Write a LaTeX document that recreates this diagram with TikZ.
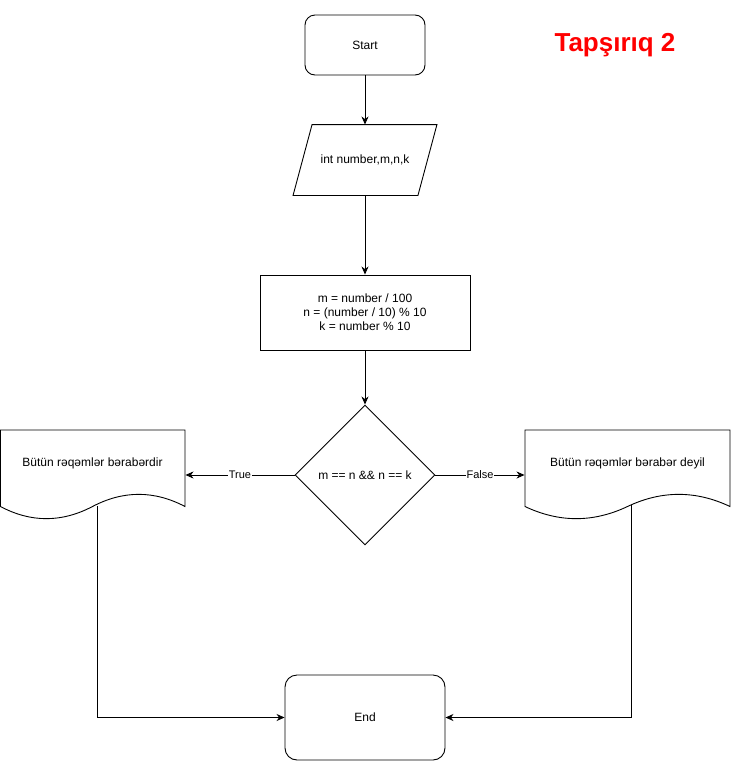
\documentclass[tikz,border=0pt]{standalone}
\usepackage{fontspec}
\setmainfont{Liberation Sans}
\usepackage{tikz}
\usetikzlibrary{calc, arrows.meta, positioning, shapes.geometric}

\begin{document}
\begin{tikzpicture}[
    x=1pt, y=-1pt,
    font=\fontsize{12}{14}\selectfont,
    line width=0.9pt,
    term node/.style={rectangle, rounded corners=10pt, draw, align=center},
    io node/.style={rectangle, minimum width=124pt, minimum height=70pt, inner sep=0pt},
    proc node/.style={rectangle, draw, align=center, minimum width=210pt, minimum height=75pt},
    cond node/.style={diamond, draw, minimum width=140pt, minimum height=140pt, inner sep=0pt},
    doc node/.style={rectangle, minimum height=90pt, inner sep=0pt},
    arrow/.style={-{Stealth[length=8pt, width=7pt, inset=2.5pt]}},
    label node/.style={font=\fontsize{11}{13}\selectfont, fill=white, inner sep=1pt}
]
\useasboundingbox (0,0) rectangle (731,761);

% Main Nodes
\node[term node, minimum width=120pt, minimum height=60pt] (start) at (365,45) {Start};
\node[io node] (input) at (365,160) {int number,m,n,k};
\node[proc node] (calc) at (365,312.5) {m = number / 100\\n = (number / 10) \% 10\\k = number \% 10};
\node[cond node] (cond) at (365,475) {m == n \&\& n == k};
\node[doc node, minimum width=185pt] (yes) at (92.5,475) {};
\node[doc node, minimum width=205pt] (no) at (627.5,475) {};
\node[term node, rounded corners=12pt, minimum width=160pt, minimum height=85pt] (end) at (365,717.5) {End};

% Title
\node[text=red, font=\bfseries\fontsize{26}{30}\selectfont] (title) at (615,45) {Tapşırıq 2};

% Input outline
\draw ($(input.south west)+(-9.5,0)$) -- ($(input.north west)+(9.5,0)$)
  -- ($(input.north east)+(9.5,0)$) -- ($(input.south east)+(-9.5,0)$) -- cycle;

% Document outlines
\draw (0.5,430) -- (185,430) -- (185,506.5)
  .. controls (154.2,490.3) and (123.3,490.3) .. (92.5,506.5)
  .. controls (61.7,522.7) and (30.8,522.7) .. (0.5,506.5) -- cycle;
\draw (525,430) -- (730,430) -- (730,506.5)
  .. controls (695.8,490.3) and (661.7,490.3) .. (627.5,506.5)
  .. controls (593.3,522.7) and (559.2,522.7) .. (525,506.5) -- cycle;
\node at (yes.center) [yshift=12pt] (yestext) {Bütün rəqəmlər bərabərdir};
\node at (no.center) [yshift=12pt] (notext) {Bütün rəqəmlər bərabər deyil};

% Vertical arrows
\draw[arrow] (start) -- (input);
\draw[arrow] (input) -- (calc);
\draw[arrow] (calc) -- (cond);

% Branches
\draw[arrow] (cond) -- node[label node] {True} (yes);
\draw[arrow] (cond) -- node[label node] {False} (no);

% Back to End
\coordinate (yesfoot) at (97,506);
\coordinate (nofoot) at (631,505);
\draw[arrow] (yesfoot) |- (end);
\draw[arrow] (nofoot) |- (end);
\end{tikzpicture}
\end{document}
